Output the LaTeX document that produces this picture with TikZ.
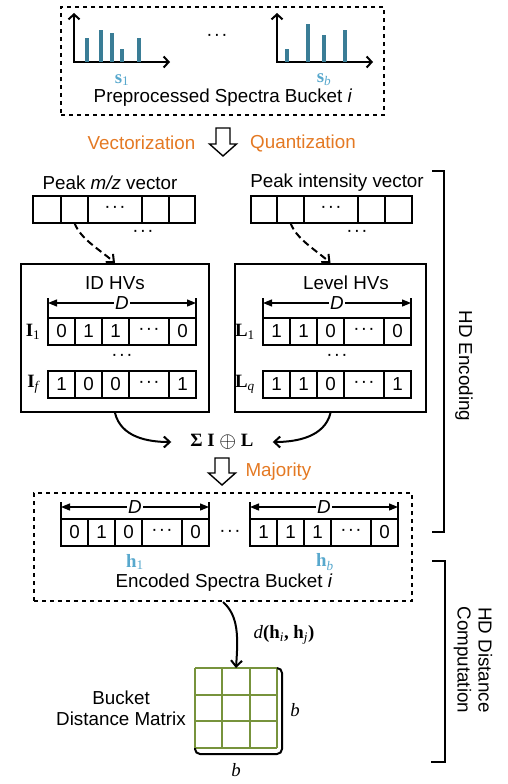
\documentclass[tikz,border=0pt]{standalone}
\usepackage{fontspec}
\setmainfont{Liberation Sans}
\newfontfamily\tnr{Liberation Serif}
\usetikzlibrary{arrows.meta,calc}
\definecolor{orng}{RGB}{228,121,35}
\definecolor{tealbar}{RGB}{58,125,150}
\definecolor{lblue}{RGB}{88,168,205}
\definecolor{olivegrid}{RGB}{119,147,60}
\newcommand\tdots{\kern0.5pt·\kern1.2pt·\kern1.2pt·\kern0.5pt}
\tikzset{
  every node/.style={font=\fontsize{18.8}{21}\selectfont},
  cell/.style={draw,line width=2pt,minimum height=27,inner sep=0pt,outer sep=0pt,anchor=north west},
  dashbox/.style={draw,line width=2pt,dash pattern=on 4pt off 4pt,inner sep=0pt},
  hvbox/.style={draw,line width=2pt,inner sep=0pt},
  dimarrow/.style={line width=1.2pt,{Triangle[length=9pt,width=7pt]}-{Triangle[length=9pt,width=7pt]}},
  dimtick/.style={line width=1.2pt},
  dlabel/.style={fill=white,inner sep=1pt,font=\fontsize{18.8}{21}\selectfont\itshape},
  flowarrow/.style={line width=2pt,-{Straight Barb[length=6pt,width=11pt]}},
  dasharrow/.style={line width=2pt,dash pattern=on 7pt off 4pt,-{Straight Barb[length=6pt,width=11pt]}},
  axisline/.style={line width=2pt,{Straight Barb[length=5pt,width=11pt]}-{Straight Barb[length=5pt,width=11pt]}},
  hollow/.style={draw,line width=1.4pt,fill=white},
  orangetxt/.style={text=orng},
  vlabel/.style={text=lblue,inner sep=1pt,font=\fontsize{18.8}{21}\selectfont\tnr\bfseries},
  rowlabel/.style={font=\fontsize{18.8}{21}\selectfont\tnr\bfseries},
  bracket/.style={line width=2pt},
  gridline/.style={draw=olivegrid,line width=2pt},
}
\newcommand\hvrow[7]{%
  \node[cell,minimum width=27] (#1a) at (#2,#3) {#4};
  \node[cell,minimum width=27] (#1b) at (#1a.north east) {#5};
  \node[cell,minimum width=27] (#1c) at (#1b.north east) {#6};
  \node[cell,minimum width=40] (#1d) at (#1c.north east) {\tdots};
  \node[cell,minimum width=27] (#1e) at (#1d.north east) {#7};
}
\newcommand\dimline[3]{% first cell, last cell, height above
  \draw[dimtick] ([yshift=#3+5]#1.north west) -- (#1.north west);
  \draw[dimtick] ([yshift=#3+5]#2.north east) -- (#2.north east);
  \draw[dimarrow] ([yshift=#3]#1.north west) -- node[dlabel]{D} ([yshift=#3]#2.north east);
}
\newcommand\hollowdown[3]{%
  \draw[hollow] ({#1-7},#2) -- ({#1+7},#2) -- ({#1+7},{#2+#3-12}) -- ({#1+13.5},{#2+#3-12}) -- (#1,{#2+#3}) -- ({#1-13.5},{#2+#3-12}) -- ({#1-7},{#2+#3-12}) -- cycle;
}
\begin{document}
\begin{tikzpicture}[x=1pt,y=-1pt]
\useasboundingbox (0,0) rectangle (508,784);

% ---------- top: preprocessed spectra ----------
\node[dashbox,minimum width=323,minimum height=108] (topbox) at (222.5,61) {};
\draw[axisline] (74,13) -- (74,62) -- (170,62);
\fill[tealbar] (85,62) rectangle (89,38);
\fill[tealbar] (99,62) rectangle (103,30);
\fill[tealbar] (110,62) rectangle (114,33);
\fill[tealbar] (120,62) rectangle (124,49);
\fill[tealbar] (137,62) rectangle (141,38);
\draw[axisline] (277,13) -- (277,62) -- (373,62);
\fill[tealbar] (285,62) rectangle (289,49);
\fill[tealbar] (306,62) rectangle (310,24);
\fill[tealbar] (322,62) rectangle (326,35);
\fill[tealbar] (343,62) rectangle (347,30);
\node[vlabel] (s1) at (122,80) {s\textsubscript{\mdseries 1}};
\node[vlabel] (sb) at (324,80) {s\textsubscript{\mdseries\itshape b}};
\node (topdots) at (217,37) {\tdots};
\node (pre) at (223,98) {Preprocessed Spectra Bucket \textit{i}};

% ---------- vectorization ----------
\node[orangetxt] (vec) at (141.5,143) {Vectorization};
\node[orangetxt] (quant) at (303,143) {Quantization};
\hollowdown{223}{128}{28}

% ---------- peak vectors ----------
\node (mzlab) at (110,183) {Peak \textit{m/z} vector};
\node[cell,minimum width=28] (ma) at (33,196) {};
\node[cell,minimum width=27] (mb) at (ma.north east) {};
\node[cell,minimum width=54] (mc) at (mb.north east) {\tdots};
\node[cell,minimum width=27] (md) at (mc.north east) {};
\node[cell,minimum width=26] (me) at (md.north east) {};
\node (mzdots) at (143,233) {\tdots};

\node (intlab) at (337,183) {Peak intensity vector};
\node[cell,minimum width=26] (pa) at (251,196) {};
\node[cell,minimum width=27] (pb) at (pa.north east) {};
\node[cell,minimum width=54] (pc) at (pb.north east) {\tdots};
\node[cell,minimum width=27] (pd) at (pc.north east) {};
\node[cell,minimum width=27] (pe) at (pd.north east) {};
\node (intdots) at (357,233) {\tdots};

% ---------- ID HVs ----------
\node[hvbox,minimum width=188,minimum height=148] (idbox) at (115,338) {};
\node (idlab) at (115,283) {ID HVs};
\hvrow{ia}{48}{318}{0}{1}{1}{0}
\hvrow{ib}{48}{371}{1}{0}{0}{1}
\dimline{iaa}{iae}{15}
\node[rowlabel] (I1) at (33,332) {I\textsubscript{\mdseries 1}};
\node[rowlabel] (If) at (33,384) {I\textsubscript{\mdseries\itshape f}};
\node (iddots) at (122,357) {\tdots};

% ---------- Level HVs ----------
\node[hvbox,minimum width=191,minimum height=148] (lvbox) at (330.5,338) {};
\node (lvlab) at (346,283) {Level HVs};
\hvrow{la}{263}{318}{1}{1}{0}{0}
\hvrow{lb}{263}{371}{1}{1}{0}{1}
\dimline{laa}{lae}{15}
\node[rowlabel] (L1) at (245,332) {L\textsubscript{\mdseries 1}};
\node[rowlabel] (Lq) at (245,384) {L\textsubscript{\mdseries\itshape q}};
\node (lvdots) at (337,357) {\tdots};

% dashed arrows
\draw[dasharrow] (mb.south) .. controls +(6,16) and +(-16,-14) .. (idbox.north);
\draw[dasharrow] (pb.south) .. controls +(6,16) and +(-16,-14) .. (lvbox.north);

% ---------- sum ----------
\node[inner xsep=19pt] (sum) at (222,442) {\tnr\bfseries Σ I \raisebox{-1.2pt}{\scalebox{1.25}{$\oplus$}} L};
\draw[flowarrow] (idbox.south) .. controls +(6,24) and +(-24,0) .. (sum.west);
\draw[flowarrow] (lvbox.south) .. controls +(-6,24) and +(24,0) .. (sum.east);

\hollowdown{222}{458}{27}
\node[orangetxt,anchor=west] (maj) at (242,472) {Majority};

% ---------- encoded bucket ----------
\node[dashbox,minimum width=378,minimum height=108] (encbox) at (223,547) {};
\hvrow{ha}{61}{519}{0}{1}{0}{0}
\hvrow{hb}{250}{519}{1}{1}{1}{0}
\dimline{haa}{hae}{12}
\dimline{hba}{hbe}{12}
\node (encdots) at (230,533) {\tdots};
\node[vlabel] (h1) at (135,562) {h\textsubscript{\mdseries 1}};
\node[vlabel] (hbl) at (325,562) {h\textsubscript{\mdseries\itshape b}};
\node (enc) at (224,583) {Encoded Spectra Bucket \textit{i}};

% ---------- distance matrix ----------
\node[minimum width=82,minimum height=80,inner sep=0pt,outer sep=0pt] (mat) at (236,708) {};
\foreach \k in {0,1,2,3}{
  \draw[gridline] ($(mat.north west)!\k/3!(mat.north east)$) -- ($(mat.south west)!\k/3!(mat.south east)$);
  \draw[gridline] ($(mat.north west)!\k/3!(mat.south west)$) -- ($(mat.north east)!\k/3!(mat.south east)$);
}
\draw[bracket,rounded corners=5pt] (mat.north east) -- ++(5,0) -- ++(0,86) -- ($(mat.south west)+(0,6)$) -- (mat.south west);
\node (bright) at (295,710) {\tnr\itshape b};
\node (bbottom) at (236,770) {\tnr\itshape b};
\node[align=center] (matlab) at (121,708) {Bucket\\Distance Matrix};
\draw[flowarrow] (encbox.south) .. controls +(16,14) and +(2,-30) .. (mat.north);
\node (dlab) at (284,635) {\tnr\itshape d\bfseries\upshape(h\textsubscript{\mdseries\itshape i}, h\textsubscript{\mdseries\itshape j})};

% ---------- brackets ----------
\draw[bracket] (432,171) -- (444,171) -- (444,532) -- (432,532);
\node[rotate=-90] (hdenc) at (464,366) {HD Encoding};
\draw[bracket] (432,561) -- (445,561) -- (445,762) -- (431,762);
\node[rotate=-90,align=center] (hddist) at (473,660) {HD Distance\\Computation};
\end{tikzpicture}
\end{document}
